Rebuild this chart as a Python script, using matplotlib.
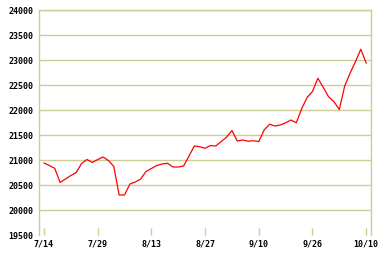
import matplotlib
matplotlib.use("Agg")
import matplotlib.pyplot as plt
import numpy as np

# ===============================================================
# Data
# ===============================================================
values = [
    20940, 20890, 20833, 20550, 20620, 20690, 20750, 20930, 21010, 20950,
    21010, 21060, 20990, 20870, 20300, 20300, 20520, 20560, 20620, 20770,
    20830, 20890, 20920, 20935, 20860, 20860, 20880, 21080, 21280, 21265,
    21235, 21290, 21280, 21370, 21455, 21590, 21380, 21400, 21375, 21385,
    21370, 21600, 21715, 21680, 21700, 21745, 21800, 21745, 22030, 22250,
    22370, 22635, 22455, 22265, 22165, 22010, 22480, 22735, 22965, 23215,
    22940,
]
tick_pos = [0, 10, 20, 30, 40, 50, 60]
tick_labels = ["7/14", "7/29", "8/13", "8/27", "9/10", "9/26", "10/10"]
y_ticks = [19500, 20000, 20500, 21000, 21500, 22000, 22500, 23000, 23500, 24000]

grid_col = "#cccc99"

fig = plt.figure(figsize=(3.82, 2.58), dpi=100)
ax = fig.add_axes([39 / 382, 23 / 258, 332 / 382, 225 / 258])

x = np.arange(len(values))
ax.plot(x, values, color="red", linewidth=0.9)

ax.set_xlim(-0.93, 60.9)
ax.set_ylim(19500, 24000)

# horizontal grid lines (no line at the bottom)
for v in y_ticks[1:]:
    ax.axhline(v, color=grid_col, linewidth=1.0, zorder=0)

for side in ["left", "right", "top"]:
    ax.spines[side].set_color(grid_col)
    ax.spines[side].set_linewidth(1.0)
ax.spines["bottom"].set_visible(False)

ax.set_yticks(y_ticks)
ax.set_yticklabels([str(v) for v in y_ticks])
ax.set_xticks(tick_pos)
ax.set_xticklabels(tick_labels)

ax.tick_params(axis="y", length=0, pad=4)
ax.tick_params(axis="x", direction="in", length=5, color=grid_col, width=1.0, pad=3)
for lab in ax.get_xticklabels() + ax.get_yticklabels():
    lab.set_family("DejaVu Sans Mono")
    lab.set_fontsize(6)
    lab.set_fontweight("bold")

fig.savefig("out.png", dpi=100)
